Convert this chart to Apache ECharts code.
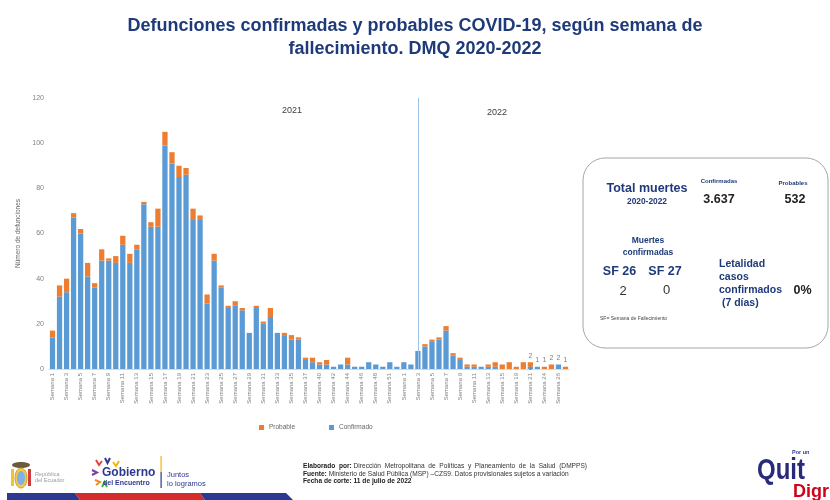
<!DOCTYPE html>
<html>
<head>
<meta charset="utf-8">
<script src="https://cdn.jsdelivr.net/npm/echarts@6/dist/echarts.min.js"></script>
<style>
  html, body { margin: 0; padding: 0; background: #fff; }
  #main { width: 830px; height: 500px; }
</style>
</head>
<body>
<div id="main"></div>
<script>
// semanas de fallecimiento (2021 y 2022)
var semanas = [
  'Semana 1','Semana 2','Semana 3','Semana 4','Semana 5','Semana 6','Semana 7','Semana 8','Semana 9','Semana 10',
  'Semana 11','Semana 12','Semana 13','Semana 14','Semana 15','Semana 16','Semana 17','Semana 18','Semana 19','Semana 20',
  'Semana 21','Semana 22','Semana 23','Semana 24','Semana 25','Semana 26','Semana 27','Semana 28','Semana 29','Semana 30',
  'Semana 31','Semana 32','Semana 33','Semana 34','Semana 35','Semana 36','Semana 37','Semana 39','Semana 40','Semana 41',
  'Semana 42','Semana 43','Semana 44','Semana 45','Semana 46','Semana 47','Semana 48','Semana 50','Semana 51','Semana 52',
  'Semana 1','Semana 2','Semana 3','Semana 4','Semana 5','Semana 6','Semana 7','Semana 8','Semana 9','Semana 10',
  'Semana 11','Semana 12','Semana 13','Semana 14','Semana 15','Semana 17','Semana 19','Semana 20','Semana 21','Semana 22',
  'Semana 24','Semana 25','Semana 26','Semana 27'
];
var confirmados = [
  14,32,34,67,60,41,36,48,48,47,
  55,47,53,73,63,63,99,91,85,86,
  66,66,29,48,36,27,28,26,16,27,
  20,23,16,15,13,13,4,3,2,2,
  1,2,2,1,1,3,2,1,3,1,
  3,2,8,10,12,13,17,6,4,1,
  1,1,1,1,0,0,0,0,1,1,
  0,0,2,0
];
var probables = [
  3,5,6,2,2,6,2,5,1,3,
  4,4,2,1,2,8,6,5,5,3,
  5,2,4,3,1,1,2,1,0,1,
  1,4,0,1,2,1,1,2,1,2,
  0,0,3,0,0,0,0,0,0,0,
  0,0,0,1,1,1,2,1,1,1,
  1,0,1,2,2,3,1,3,2,0,
  1,2,0,1
];
var inicio2022 = 52;      // barra donde se marca el año 2022
var etiquetasDesde = 68;  // últimas semanas con etiqueta de valor

var totalConfirmadas = '3.637';
var totalProbables = '532';
var sf26 = '2';
var sf27 = '0';
var letalidad = '0%';

var FONT = '"Liberation Sans", Arial, sans-serif';
var NAVY = '#1f3a7a';

var myChart = echarts.init(document.getElementById('main'));

var lbl = { show: true, fontSize: 7, color: '#7f7f7f', fontFamily: FONT, distance: 3 };
var dataConf = confirmados.map(function (v, i) {
  if (i >= etiquetasDesde && v > 0) {
    return { value: v, label: Object.assign({ position: probables[i] > 0 ? 'inside' : 'top' }, lbl) };
  }
  return v;
});
var dataProb = probables.map(function (v, i) {
  if (i >= etiquetasDesde && v > 0) {
    return { value: v, label: Object.assign({ position: 'top' }, lbl) };
  }
  return v;
});

function txt(x, y, text, font, fill, align) {
  return { type: 'text', x: x, y: y, silent: true,
    style: { text: text, font: font, fill: fill || NAVY, align: align || 'center', verticalAlign: 'middle' } };
}
function chevron(points, color) {
  return { type: 'polyline', silent: true, shape: { points: points },
    style: { stroke: color, lineWidth: 2, fill: null } };
}

var option = {
  backgroundColor: '#fff',
  title: {
    text: 'Defunciones confirmadas y probables COVID-19, según semana de\nfallecimiento. DMQ 2020-2022',
    left: 'center',
    top: 10,
    textStyle: { fontFamily: FONT, fontSize: 18, fontWeight: 'bold', color: NAVY, lineHeight: 23 }
  },
  legend: {
    data: ['Probable', 'Confirmado'],
    left: 254, top: 419,
    icon: 'rect', itemWidth: 5, itemHeight: 5, itemGap: 34,
    textStyle: { fontFamily: FONT, fontSize: 6.5, color: '#666' }
  },
  grid: { left: 49, right: 261, top: 98, bottom: 131 },
  xAxis: {
    type: 'category',
    data: semanas.map(function (s, i) { return String(i); }),
    axisTick: { show: false },
    axisLine: { lineStyle: { color: '#d9d9d9' } },
    axisLabel: {
      rotate: 90, interval: 1, margin: 4,
      fontFamily: FONT, fontSize: 6, color: '#808080',
      formatter: function (v) { return semanas[+v]; }
    }
  },
  yAxis: {
    type: 'value', min: 0, max: 120, interval: 20,
    name: 'Número de defunciones', nameLocation: 'middle', nameGap: 17,
    nameTextStyle: { fontFamily: FONT, fontSize: 6.5, color: '#666' },
    splitLine: { show: false },
    axisLine: { show: false },
    axisTick: { show: false },
    axisLabel: { fontFamily: FONT, fontSize: 7, color: '#808080', margin: 5 }
  },
  series: [
    {
      name: 'Confirmado', type: 'bar', stack: 'total', barCategoryGap: '25%',
      itemStyle: { color: '#5b9bd5' },
      data: dataConf,
      markLine: {
        silent: true, symbol: 'none',
        label: { show: false },
        lineStyle: { color: '#9dc3e6', width: 1, type: 'solid' },
        data: [{ xAxis: String(inicio2022) }]
      }
    },
    {
      name: 'Probable', type: 'bar', stack: 'total',
      itemStyle: { color: '#ed7d31' },
      data: dataProb
    }
  ],
  graphic: [
    txt(292, 111, '2021', '9px ' + FONT, '#404040'),
    txt(497, 113, '2022', '9px ' + FONT, '#404040'),

    // recuadro resumen
    { type: 'rect', silent: true, shape: { x: 583, y: 158, width: 245, height: 190, r: 22 },
      style: { fill: null, stroke: '#a6a6a6', lineWidth: 1 } },
    txt(647, 189, 'Total muertes', 'bold 12.5px ' + FONT),
    txt(647, 201.5, '2020-2022', 'bold 8.4px ' + FONT),
    txt(719, 181, 'Confirmadas', 'bold 6px ' + FONT),
    txt(719, 199.5, totalConfirmadas, 'bold 12.5px ' + FONT, '#222'),
    txt(793, 183, 'Probables', 'bold 6px ' + FONT),
    txt(795, 200, totalProbables, 'bold 12.5px ' + FONT, '#222'),
    txt(648, 241, 'Muertes', 'bold 8.5px ' + FONT),
    txt(648, 252.5, 'confirmadas', 'bold 8.5px ' + FONT),
    txt(619.5, 271.5, 'SF 26', 'bold 12.5px ' + FONT),
    txt(665, 271.5, 'SF 27', 'bold 12.5px ' + FONT),
    txt(623, 291.5, sf26, '13px ' + FONT, '#333'),
    txt(666.5, 290, sf27, '13px ' + FONT, '#333'),
    txt(719, 264, 'Letalidad', 'bold 10.5px ' + FONT, NAVY, 'left'),
    txt(719, 277.5, 'casos', 'bold 10.5px ' + FONT, NAVY, 'left'),
    txt(719, 290.5, 'confirmados', 'bold 10.5px ' + FONT, NAVY, 'left'),
    txt(719, 303, ' (7 días)', 'bold 10.5px ' + FONT, NAVY, 'left'),
    txt(802.5, 291, letalidad, 'bold 12.5px ' + FONT, '#222'),
    txt(600, 318.5, 'SF= Semana de Fallecimiento', '5px ' + FONT, '#444', 'left'),

    // pie de página
    { type: 'text', x: 303, y: 466, silent: true,
      style: { text: '{b|Elaborado  por:} Dirección  Metropolitana  de  Políticas  y  Planeamiento  de  la  Salud  (DMPPS)',
        fill: '#333', verticalAlign: 'middle', font: '6.6px ' + FONT,
        rich: { b: { fontWeight: 'bold', fontSize: 6.6, fontFamily: FONT, fill: '#222' } } } },
    { type: 'text', x: 303, y: 474, silent: true,
      style: { text: '{b|Fuente:} Ministerio de Salud Pública (MSP) –CZS9. Datos provisionales sujetos a variación',
        fill: '#333', verticalAlign: 'middle', font: '6.6px ' + FONT,
        rich: { b: { fontWeight: 'bold', fontSize: 6.6, fontFamily: FONT, fill: '#222' } } } },
    txt(303, 481.5, 'Fecha de corte: 11 de julio de 2022', 'bold 6.6px ' + FONT, '#222', 'left'),

    // logos
    { type: 'ellipse', silent: true, shape: { cx: 21, cy: 465, rx: 9, ry: 3 }, style: { fill: '#6b5a3e' } },
    { type: 'rect', silent: true, shape: { x: 11, y: 469, width: 3, height: 17 }, style: { fill: '#f2c230' } },
    { type: 'rect', silent: true, shape: { x: 28, y: 469, width: 3, height: 17 }, style: { fill: '#d23b3b' } },
    { type: 'ellipse', silent: true, shape: { cx: 21, cy: 478, rx: 6, ry: 10 }, style: { fill: '#f2c94c', stroke: '#c9a227', lineWidth: 1 } },
    { type: 'ellipse', silent: true, shape: { cx: 21, cy: 478, rx: 4, ry: 7 }, style: { fill: '#7fb2e0' } },
    txt(35, 474.5, 'República', '5.5px ' + FONT, '#9a9a9a', 'left'),
    txt(35, 480.5, 'del Ecuador', '5.5px ' + FONT, '#9a9a9a', 'left'),
    chevron([[96, 460], [99, 465], [102, 461]], '#e8413c'),
    chevron([[105, 458], [107.5, 463], [110, 458]], '#2b3990'),
    chevron([[113, 462], [116, 466], [119, 461]], '#f7b500'),
    chevron([[92, 470], [97, 472.5], [92, 475]], '#7b3fa0'),
    chevron([[95, 480], [100, 482], [96, 485]], '#f28c28'),
    chevron([[102, 487], [104.5, 482], [107, 487]], '#39b54a'),
    txt(102, 473, 'Gobierno', 'bold 12px ' + FONT, '#2b3990', 'left'),
    txt(103, 483.5, 'del Encuentro', 'bold 7px ' + FONT, '#2b3990', 'left'),
    { type: 'rect', silent: true, shape: { x: 160.5, y: 456, width: 1.2, height: 16 }, style: { fill: '#f7b500' } },
    { type: 'rect', silent: true, shape: { x: 160.5, y: 472, width: 1.2, height: 16 }, style: { fill: '#2b3990' } },
    txt(167, 475, 'Juntos', '7.5px ' + FONT, '#2b3990', 'left'),
    txt(167, 483.5, 'lo logramos', '7.5px ' + FONT, '#2b3990', 'left'),
    { type: 'polygon', silent: true, shape: { points: [[7, 493], [75, 493], [80, 500], [7, 500]] }, style: { fill: '#2b3990' } },
    { type: 'polygon', silent: true, shape: { points: [[75, 493], [200, 493], [205, 500], [80, 500]] }, style: { fill: '#d52b2b' } },
    { type: 'polygon', silent: true, shape: { points: [[200, 493], [286, 493], [293, 500], [205, 500]] }, style: { fill: '#2b3990' } },

    txt(792, 452, 'Por un', 'bold 5.5px ' + FONT, '#2b3990', 'left'),
    { type: 'text', x: 757, y: 471, scaleX: 0.8, silent: true,
      style: { text: 'Quit', font: 'bold 30px ' + FONT, fill: '#2b2a7a', align: 'left', verticalAlign: 'middle' } },
    txt(793, 492, 'Digr', 'bold 18px ' + FONT, '#d0021b', 'left')
  ]
};

myChart.setOption(option);
</script>
</body>
</html>
